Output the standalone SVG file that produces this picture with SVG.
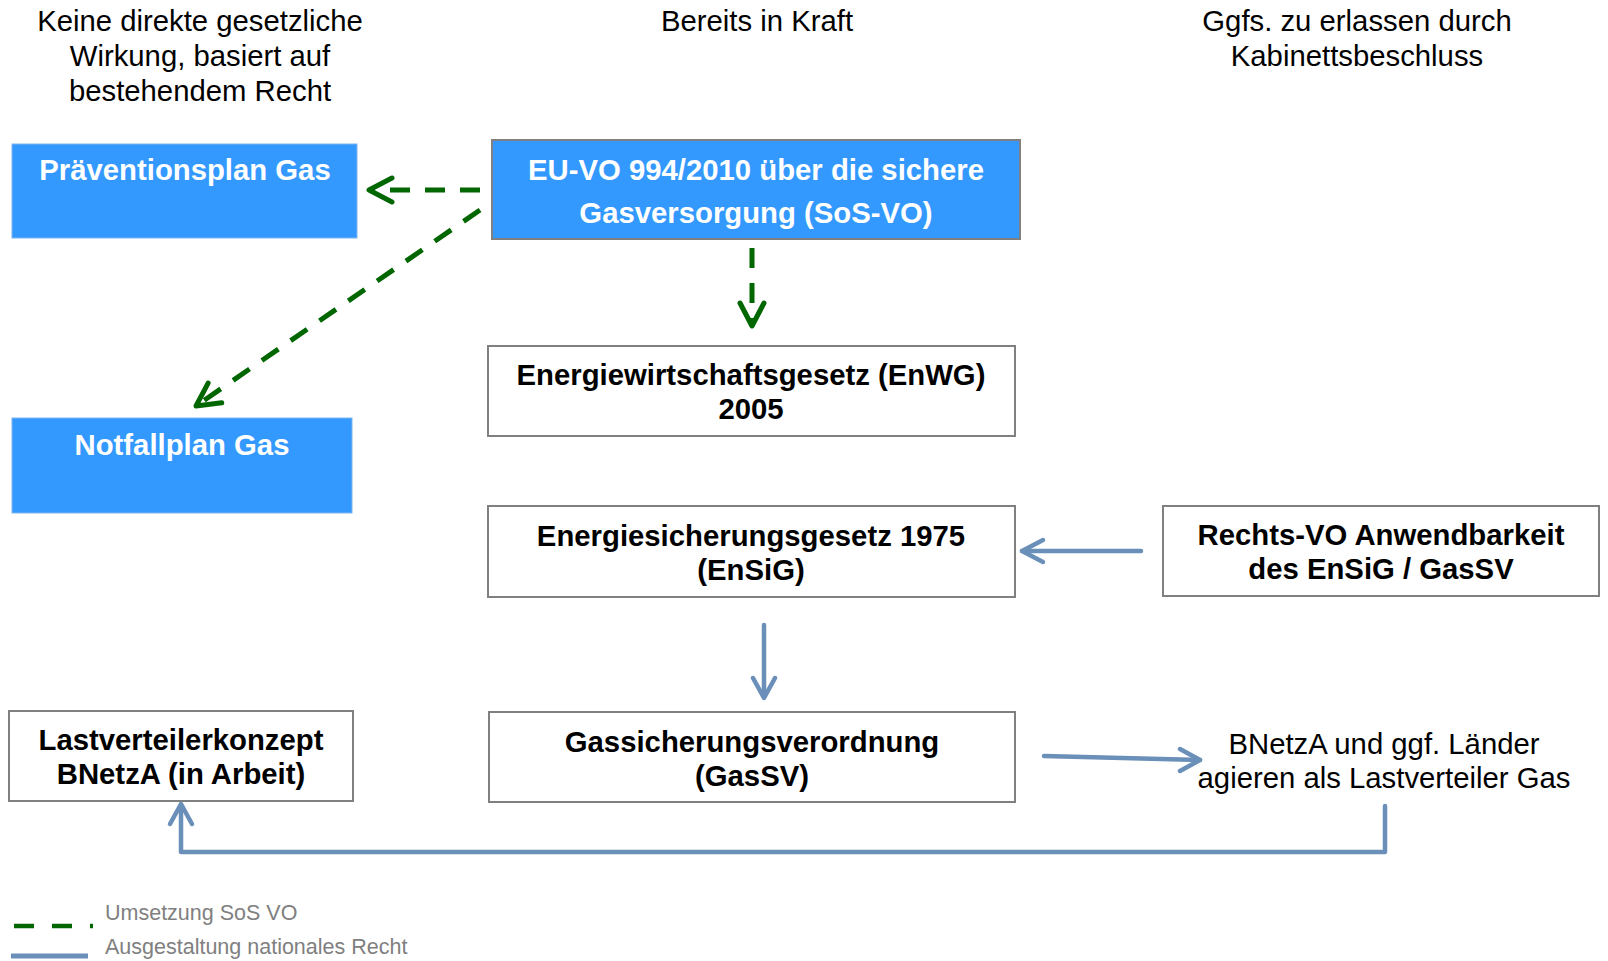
<svg xmlns="http://www.w3.org/2000/svg" width="1608" height="961" viewBox="0 0 1608 961">
<defs>
<style>
.hdr{font-family:"Liberation Sans",Arial,sans-serif;font-size:29.3px;fill:#000;text-anchor:middle}
.bt{font-family:"Liberation Sans",Arial,sans-serif;font-size:29.3px;font-weight:bold;fill:#000;text-anchor:middle}
.wt{font-family:"Liberation Sans",Arial,sans-serif;font-size:29.3px;font-weight:bold;fill:#fff;text-anchor:middle}
.nt{font-family:"Liberation Sans",Arial,sans-serif;font-size:29.3px;fill:#000;text-anchor:middle}
.lg{font-family:"Liberation Sans",Arial,sans-serif;font-size:21.5px;fill:#808080}
.bluebox{fill:#3399ff;stroke:#7fb5ee;stroke-width:1}
.wbox{fill:#fff;stroke:#808080;stroke-width:2}
.gd{fill:none;stroke:#006600;stroke-width:5;stroke-dasharray:20 15}
.bl{fill:none;stroke:#6a8fb9;stroke-width:4.5;stroke-linecap:round;stroke-linejoin:round}
</style>
<marker id="ga" viewBox="0 0 30 30" refX="27" refY="15" markerWidth="30" markerHeight="30" markerUnits="userSpaceOnUse" orient="auto">
<path d="M4,3 L27,15 L4,27" fill="none" stroke="#006600" stroke-width="5" stroke-linecap="round" stroke-linejoin="round"/>
</marker>
</defs>

<g id="headers">
<text class="hdr" x="200" y="31">Keine direkte gesetzliche</text>
<text class="hdr" x="200" y="66">Wirkung, basiert auf</text>
<text class="hdr" x="200" y="101">bestehendem Recht</text>
<text class="hdr" x="757" y="31">Bereits in Kraft</text>
<text class="hdr" x="1357" y="31">Ggfs. zu erlassen durch</text>
<text class="hdr" x="1357" y="66">Kabinettsbeschluss</text>
</g>

<g id="praevention">
<rect class="bluebox" x="12" y="144" width="345" height="94"/>
<text class="wt" x="185" y="180">Präventionsplan Gas</text>
</g>
<g id="euvo">
<rect class="bluebox" x="492" y="140" width="528" height="99" style="stroke:#808080;stroke-width:2"/>
<text class="wt" x="756" y="180">EU-VO 994/2010 über die sichere</text>
<text class="wt" x="756" y="223">Gasversorgung (SoS-VO)</text>
</g>
<g id="enwg">
<rect class="wbox" x="488" y="346" width="527" height="90"/>
<text class="bt" x="751" y="385">Energiewirtschaftsgesetz (EnWG)</text>
<text class="bt" x="751" y="419">2005</text>
</g>
<g id="notfall">
<rect class="bluebox" x="12" y="418" width="340" height="95"/>
<text class="wt" x="182" y="455">Notfallplan Gas</text>
</g>
<g id="ensig">
<rect class="wbox" x="488" y="506" width="527" height="91"/>
<text class="bt" x="751" y="546">Energiesicherungsgesetz 1975</text>
<text class="bt" x="751" y="580">(EnSiG)</text>
</g>
<g id="rechtsvo">
<rect class="wbox" x="1163" y="506" width="436" height="90"/>
<text class="bt" x="1381" y="545">Rechts-VO Anwendbarkeit</text>
<text class="bt" x="1381" y="579">des EnSiG / GasSV</text>
</g>
<g id="gassv">
<rect class="wbox" x="489" y="712" width="526" height="90"/>
<text class="bt" x="752" y="752">Gassicherungsverordnung</text>
<text class="bt" x="752" y="786">(GasSV)</text>
</g>
<g id="lastverteilerkonzept">
<rect class="wbox" x="9" y="711" width="344" height="90"/>
<text class="bt" x="181" y="750">Lastverteilerkonzept</text>
<text class="bt" x="181" y="784">BNetzA (in Arbeit)</text>
</g>
<g id="bnetza">
<text class="nt" x="1384" y="754">BNetzA und ggf. Länder</text>
<text class="nt" x="1384" y="788">agieren als Lastverteiler Gas</text>
</g>

<g id="connectors">
<path class="gd" d="M480,190 L369,190" marker-end="url(#ga)"/>
<path class="gd" d="M480,210 L196,406" marker-end="url(#ga)"/>
<path class="gd" d="M752,248 L752,326" marker-end="url(#ga)"/>
<path class="bl" d="M1141,551 L1022,551"/>
<path class="bl" d="M1043,540 L1022,551 L1043,562"/>
<path class="bl" d="M764,625 L764,697"/>
<path class="bl" d="M753,678 L764,698 L775,678"/>
<path class="bl" d="M1044,756 L1200,760"/>
<path class="bl" d="M1180,749 L1200,760 L1180,771"/>
<path class="bl" d="M1385,806 L1385,852 L181,852 L181,805"/>
<path class="bl" d="M170,824 L181,804 L192,824"/>
</g>

<g id="legend">
<line x1="14" y1="926" x2="93" y2="926" stroke="#006600" stroke-width="4.5" stroke-dasharray="20 18"/>
<line x1="11" y1="956" x2="88" y2="956" stroke="#6a8fb9" stroke-width="5"/>
<text class="lg" x="105" y="920">Umsetzung SoS VO</text>
<text class="lg" x="105" y="954">Ausgestaltung nationales Recht</text>
</g>
</svg>
